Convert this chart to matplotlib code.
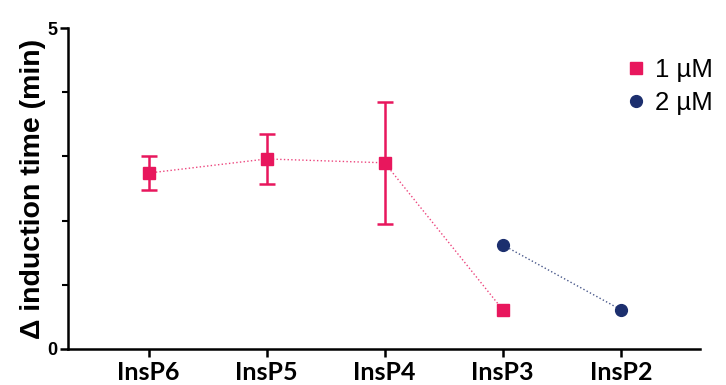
import matplotlib
matplotlib.use("Agg")
import matplotlib.pyplot as plt
from matplotlib.ticker import MultipleLocator

categories = ["InsP6", "InsP5", "InsP4", "InsP3", "InsP2"]

# 1 uM series (InsP6..InsP3)
x_1um = [0, 1, 2, 3]
y_1um = [2.74, 2.96, 2.90, 0.61]
err_1um = [0.27, 0.39, 0.95, 0.0]

# 2 uM series (InsP3, InsP2)
x_2um = [3, 4]
y_2um = [1.62, 0.61]

pink = "#E8175D"
navy = "#1C2F6E"

plt.rcParams["font.family"] = ["Liberation Sans", "DejaVu Sans"]

fig = plt.figure(figsize=(7.26, 3.85), dpi=100)
ax = fig.add_axes([0.094, 0.094, 0.87, 0.833])

ax.plot(x_1um, y_1um, linestyle=":", color=pink, linewidth=1.0, alpha=0.8)
ax.errorbar(x_1um[:3], y_1um[:3], yerr=err_1um[:3], fmt="none",
            ecolor=pink, elinewidth=1.8, capsize=6, capthick=1.8)
ax.plot(x_1um, y_1um, linestyle="none", marker="s", markersize=9,
        color=pink, label="1 µM")

ax.plot(x_2um, y_2um, linestyle=":", color=navy, linewidth=1.0, alpha=0.8)
ax.plot(x_2um, y_2um, linestyle="none", marker="o", markersize=8.5,
        color=navy, label="2 µM")

ax.set_xlim(-0.68, 4.67)
ax.set_ylim(0, 5)
ax.set_xticks(range(len(categories)))
ax.set_xticklabels(categories, fontsize=18, fontweight="bold",
                   family=["Lato", "DejaVu Sans"])
ax.set_yticks([0, 5])
ax.set_yticklabels(["0", "5"], fontsize=13, fontweight="bold")
ax.yaxis.set_minor_locator(MultipleLocator(1))
ax.tick_params(axis="x", which="major", direction="out", length=6,
               width=1.8, pad=3)
ax.tick_params(axis="y", which="major", direction="out", length=6,
               width=1.8, pad=2)
ax.tick_params(axis="y", which="minor", direction="out", length=4, width=1.5)

ax.spines["top"].set_visible(False)
ax.spines["right"].set_visible(False)
ax.spines["left"].set_linewidth(1.8)
ax.spines["bottom"].set_linewidth(1.8)

ax.set_ylabel("Δ induction time (min)", fontsize=20.5, fontweight="bold",
              labelpad=1)

ax.legend(loc="upper right", bbox_to_anchor=(1.058, 0.98), frameon=False,
          fontsize=18.5, handletextpad=0.25, handlelength=1.0,
          labelspacing=0.35)

fig.savefig("out.png", dpi=100)
